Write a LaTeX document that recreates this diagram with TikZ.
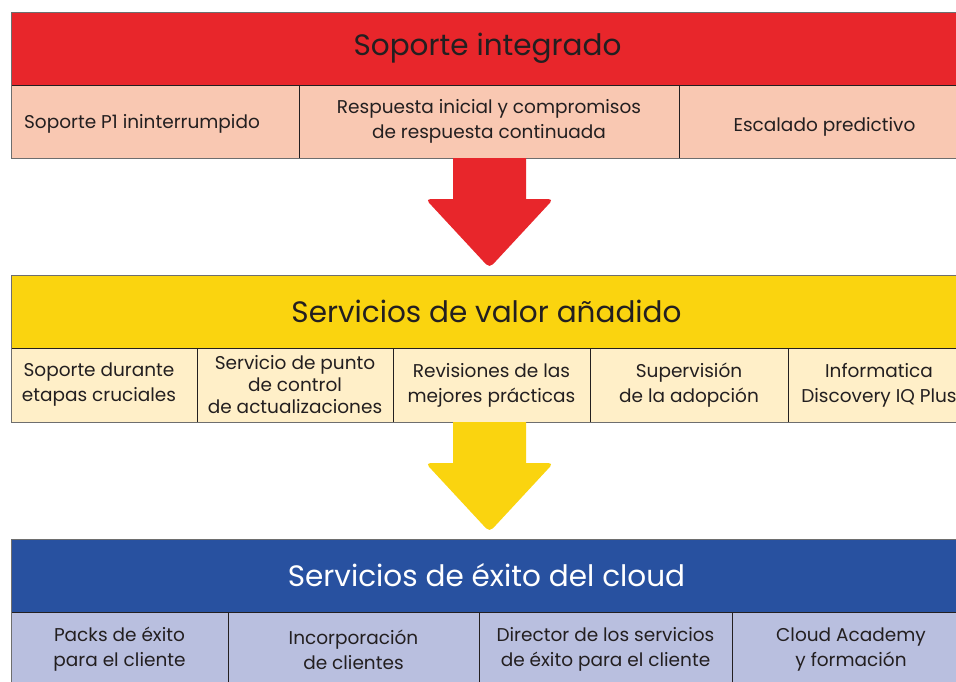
\documentclass[tikz,border=0pt]{standalone}
\usepackage{fontspec}
\setmainfont{Poppins}
\usetikzlibrary{positioning,calc}

\definecolor{rojo}{HTML}{E8262B}
\definecolor{rosa}{HTML}{F9C8B2}
\definecolor{amarillo}{HTML}{FAD40F}
\definecolor{crema}{HTML}{FFEFC8}
\definecolor{azul}{HTML}{2851A0}
\definecolor{lila}{HTML}{B9BFDF}
\definecolor{tinta}{HTML}{231F20}
\definecolor{marco}{HTML}{6E6E6E}

\tikzset{
  band/.style={draw=tinta, line width=0.8pt, anchor=north west, inner sep=0pt, outer sep=0pt,
    minimum width=959pt, minimum height=73pt, text=tinta, font=\fontsize{29.5}{34}\selectfont},
  cell/.style={draw=tinta, line width=0.8pt, inner sep=0pt, outer sep=0pt, align=center,
    minimum height=#1, text=tinta, font=\fontsize{18.5}{25}\selectfont},
  cell/.default=73pt,
  frame/.style={draw=marco, line width=1pt},
}

% block arrow from the bottom of one band to the top of the next
\newcommand{\bigarrow}[3]{%
  \fill[#1] ($(#2)+(-36.5,0)$) -- ($(#3)+(-36.5,-76)$)
    [rounded corners=5pt] -- ($(#3)+(-64,-76)$) -- ($(#3)+(0,-7)$)
    -- ($(#3)+(64,-76)$) [sharp corners] -- ($(#3)+(36.5,-76)$)
    -- ($(#2)+(36.5,0)$) -- cycle;}
% text lowered inside its cell
\newcommand{\low}[2]{\raisebox{-#1}[\height][\depth]{#2}}

\begin{document}
\begin{tikzpicture}[x=1pt,y=-1pt]
\clip (0,0) rectangle (956,681);
\fill[white] (0,0) rectangle (956,681);

% Soporte integrado
\node[band, fill=rojo] (top) at (11,12) {\hspace*{-6pt}Soporte integrado};
\node[cell, fill=rosa, minimum width=288pt, anchor=north west] (t1) at (top.south west) {\low{2pt}{Soporte P1 ininterrumpido}\hspace*{26pt}};
\node[cell, fill=rosa, minimum width=380pt, right=0pt of t1] (t2) {Respuesta inicial y compromisos\\de respuesta continuada};
\node[cell, fill=rosa, minimum width=291pt, right=0pt of t2] (t3) {\low{5pt}{Escalado predictivo}};
\draw[frame] (top.north west) rectangle (t3.south east);

% Servicios de valor añadido
\node[band, fill=amarillo] (mid) at (11,275) {\hspace*{-8pt}Servicios de valor añadido};
\node[cell=74pt, fill=crema, minimum width=186pt, anchor=north west] (m1) at (mid.south west) {Soporte durante\hspace*{10pt}\\etapas cruciales\hspace*{10pt}};
\node[cell=74pt, fill=crema, minimum width=196pt, right=0pt of m1, font=\fontsize{18.5}{22}\selectfont] (m2) {Servicio de punto\\de control\\de actualizaciones};
\node[cell=74pt, fill=crema, minimum width=197pt, right=0pt of m2] (m3) {Revisiones de las\\mejores prácticas};
\node[cell=74pt, fill=crema, minimum width=198pt, right=0pt of m3] (m4) {Supervisión\\de la adopción};
\node[cell=74pt, fill=crema, minimum width=182pt, right=0pt of m4] (m5) {Informatica\\Discovery IQ Plus};
\draw[frame] (mid.north west) rectangle (m5.south east);

% Servicios de éxito del cloud
\node[band, fill=azul, text=white] (bot) at (11,539) {\hspace*{-8pt}Servicios de éxito del cloud};
\node[cell=75pt, fill=lila, minimum width=217pt, anchor=north west] (b1) at (bot.south west) {Packs de éxito\\para el cliente};
\node[cell=75pt, fill=lila, minimum width=251pt, right=0pt of b1] (b2) {Incorporación\\de clientes};
\node[cell=75pt, fill=lila, minimum width=253pt, right=0pt of b2] (b3) {Director de los servicios\\de éxito para el cliente};
\node[cell=75pt, fill=lila, minimum width=238pt, right=0pt of b3] (b4) {Cloud Academy\\y formación};
\draw[frame] (bot.north west) rectangle (b4.south east);

% arrows
\coordinate (ax) at (489.5,0);
\bigarrow{rojo}{ax |- t2.south}{ax |- mid.north}
\bigarrow{amarillo}{ax |- m3.south}{ax |- bot.north}
\end{tikzpicture}
\end{document}
